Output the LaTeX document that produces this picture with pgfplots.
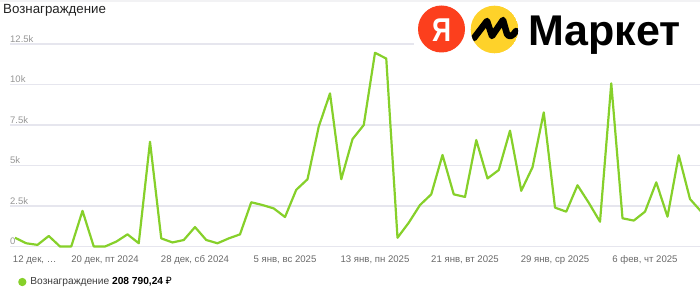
\documentclass[border=0pt]{standalone}
\usepackage{pgfplots}
\pgfplotsset{compat=1.18}
\usepackage{fontspec}
\setmainfont{Liberation Sans}
\newfontfamily\rubfont{Noto Sans}
\definecolor{lineg}{RGB}{134,208,42}
\definecolor{gridc}{RGB}{230,230,238}
\definecolor{ytc}{RGB}{150,150,150}
\definecolor{xtc}{RGB}{105,105,105}
\definecolor{titlec}{RGB}{34,34,34}
\definecolor{legc}{RGB}{60,60,60}
\definecolor{yared}{RGB}{252,63,29}
\definecolor{yayel}{RGB}{254,210,42}
\definecolor{topgray}{RGB}{242,242,244}

\pgfplotstableread{
idx val
0 540
1 200
2 100
3 650
4 0
5 0
6 2200
7 0
8 0
9 300
10 750
11 200
12 6470
13 500
14 250
15 400
16 1200
17 400
18 200
19 500
20 750
21 2730
22 2560
23 2350
24 1820
25 3500
26 4150
27 7400
28 9450
29 4150
30 6630
31 7500
32 11960
33 11600
34 540
35 1470
36 2560
37 3220
38 5650
39 3220
40 3060
41 6570
42 4200
43 4720
44 7150
45 3440
46 4890
47 8280
48 2400
49 2150
50 3780
51 2700
52 1530
53 10070
54 1740
55 1600
56 2150
57 3960
58 1840
59 5630
60 2930
61 2150
}\rewardtable

\begin{document}
\begin{tikzpicture}[x=1pt,y=1pt]
\useasboundingbox (0,0) rectangle (700,289);
\fill[topgray] (0,286.5) rectangle (700,289);
\node[anchor=base west, inner sep=0pt, text=titlec, font=\fontsize{13.3}{15}\selectfont] at (3,275.7) {Вознаграждение};
\begin{axis}[
  at={(10pt,34.4pt)}, anchor=south west,
  scale only axis, width=690pt, height=218.7pt,
  xmin=-0.4444, xmax=60.8889, ymin=-500, ymax=13000,
  scaled y ticks=false,
  axis line style={draw=none}, tick style={draw=none}, major tick length=0pt,
  ytick={0,2500,5000,7500,10000,12500},
  yticklabels={0,2.5k,5k,7.5k,10k,12.5k},
  ymajorgrids, grid style={gridc, line width=1.2pt},
  yticklabel style={anchor=south west, inner sep=0pt, yshift=1.5pt, text=ytc, font=\fontsize{9.5}{11}\selectfont},
  xtick={0,8,16,24,32,40,48,56},
  xticklabels={{\rlap{\hspace{-2pt}12 дек, …}},{20 дек, пт 2024},{28 дек, сб 2024},{5 янв, вс 2025},{13 янв, пн 2025},{21 янв, вт 2025},{29 янв, ср 2025},{6 фев, чт 2025}},
  xticklabel style={anchor=base, inner sep=0pt, yshift=-7.8pt, text=xtc, font=\fontsize{9.6}{11}\selectfont},
  legend image code/.code={\fill[lineg] (3pt,0pt) circle (3pt);},
  legend style={at={(axis description cs:0.01159,-0.1253)}, anchor=west, draw=none, fill=none, inner sep=0pt, column sep=4pt, nodes={inner sep=0pt}, font=\fontsize{10.2}{12}\selectfont, text=legc},
]
\addplot[lineg, line width=2.2pt, line join=round] table[x=idx, y=val] {\rewardtable};
\addlegendentry{Вознаграждение \textcolor{black}{\textbf{208 790,24 {\rubfont ₽}}}}
\end{axis}
% logo
\fill[white] (414,234) rectangle (700,286.5);
\fill[yared] (441.5,260) circle (23.5);
\node[text=white, inner sep=0pt, font=\bfseries\fontsize{33}{33}\selectfont, xscale=0.8] at (441.5,258.5) {Я};
\begin{scope}
\clip (494.5,259.5) circle (23.8);
\fill[yayel] (494.5,259.5) circle (23.8);
\draw[black, line width=6.5pt, line join=round, line cap=round] (474,251) -- (487,268) -- (492,253) -- (503,269) -- (507,255) .. controls (509,251) and (513,253) .. (516,258);
\end{scope}
\node[anchor=base west, inner sep=0pt, font=\bfseries\fontsize{43}{43}\selectfont] at (528,243) {Маркет};
\end{tikzpicture}
\end{document}
